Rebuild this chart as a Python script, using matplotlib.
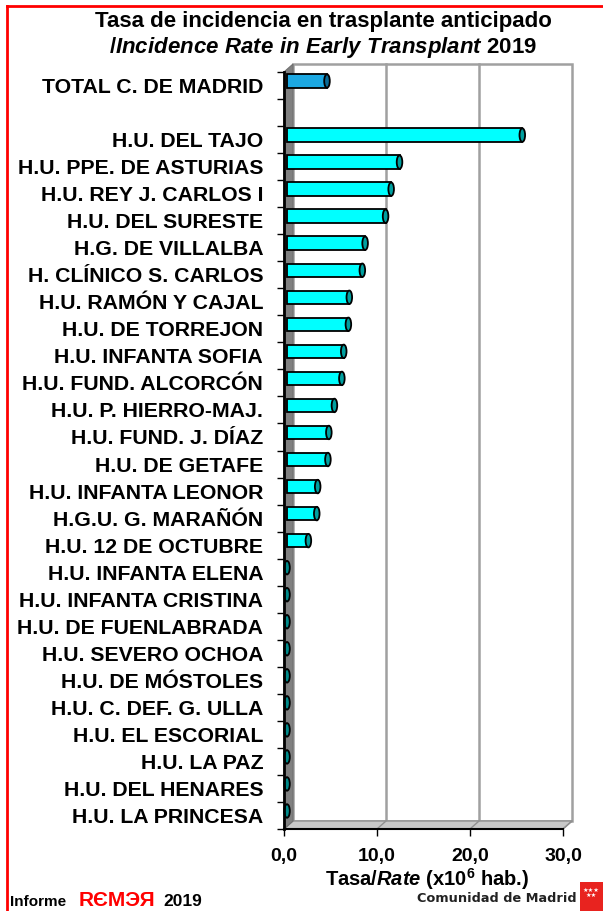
import matplotlib
matplotlib.use("Agg")
import matplotlib.pyplot as plt
import matplotlib.transforms as mtransforms
from matplotlib.patches import Rectangle, Ellipse, Polygon
from matplotlib.lines import Line2D

plt.rcParams["font.family"] = ["Liberation Sans", "DejaVu Sans"]
plt.rcParams["font.weight"] = "bold"
plt.rcParams["mathtext.fontset"] = "custom"
plt.rcParams["mathtext.rm"] = "Liberation Sans:bold"
plt.rcParams["mathtext.it"] = "Liberation Sans:bold:italic"
plt.rcParams["mathtext.bf"] = "Liberation Sans:bold"

# data (top to bottom); "" is the empty gap row
categories = ["TOTAL C. DE MADRID", "",
              "H.U. DEL TAJO", "H.U. PPE. DE ASTURIAS", "H.U. REY J. CARLOS I",
              "H.U. DEL SURESTE", "H.G. DE VILLALBA", "H. CLÍNICO S. CARLOS",
              "H.U. RAMÓN Y CAJAL", "H.U. DE TORREJON", "H.U. INFANTA SOFIA",
              "H.U. FUND. ALCORCÓN", "H.U. P. HIERRO-MAJ.", "H.U. FUND. J. DÍAZ",
              "H.U. DE GETAFE", "H.U. INFANTA LEONOR", "H.G.U. G. MARAÑÓN",
              "H.U. 12 DE OCTUBRE", "H.U. INFANTA ELENA", "H.U. INFANTA CRISTINA",
              "H.U. DE FUENLABRADA", "H.U. SEVERO OCHOA", "H.U. DE MÓSTOLES",
              "H.U. C. DEF. G. ULLA", "H.U. EL ESCORIAL", "H.U. LA PAZ",
              "H.U. DEL HENARES", "H.U. LA PRINCESA"]
rates = [4.3, None,
         25.3, 12.1, 11.2, 10.6, 8.4, 8.1, 6.7, 6.6, 6.1, 5.9, 5.1, 4.5, 4.4,
         3.3, 3.2, 2.3, 0, 0, 0, 0, 0, 0, 0, 0, 0, 0]
xticks = [0, 10, 20, 30]
xticklabels = ["0,0", "10,0", "20,0", "30,0"]

W, H = 603, 911
AX_W, AX_H = 279, 757
fig = plt.figure(figsize=(W / 100, H / 100), dpi=100)
ax = fig.add_axes([284 / W, 1 - 829 / H, AX_W / W, AX_H / H])
ax.set_xlim(0, 30)
n = len(categories)
ax.set_ylim(n - 0.5, -0.5)
ax.set_facecolor("none")

# pseudo-3D frame: back wall, floor, left wall (depth offset in pixels)
dx, dy = 9, 8
ox, oy = dx / AX_W, dy / AX_H
back_d = mtransforms.offset_copy(ax.transData, fig=fig, x=dx, y=dy, units="dots")
ax.add_patch(Rectangle((ox, oy), 1, 1, transform=ax.transAxes, facecolor="white",
                       edgecolor="#a0a0a0", lw=1.8, clip_on=False, zorder=0))
for xv in xticks[1:-1]:
    ax.add_line(Line2D([xv, xv], [n - 0.5, -0.5], transform=back_d,
                       color="#a0a0a0", lw=1.8, clip_on=False, zorder=0.5))
ax.add_patch(Polygon([(0, 0), (1, 0), (1 + ox, oy), (ox, oy)], closed=True,
                     transform=ax.transAxes, facecolor="#c8c8c8", edgecolor="#909090",
                     lw=1, clip_on=False, zorder=1))
for xv in xticks[1:]:
    x0 = xv / 30
    ax.add_line(Line2D([x0, x0 + ox], [0, oy], transform=ax.transAxes,
                       color="#909090", lw=1, clip_on=False, zorder=1.1))
ax.add_patch(Polygon([(0, 0), (0, 1), (ox, 1 + oy), (ox, oy)], closed=True,
                     transform=ax.transAxes, facecolor="#808080", edgecolor="#707070",
                     lw=0.8, clip_on=False, zorder=1.2))

# cylinders
mid = mtransforms.offset_copy(ax.transData, fig=fig, x=3, y=4.5, units="dots")
bh = 0.5
cap_w = 0.6
for i, v in enumerate(rates):
    if v is None:
        continue
    face, capc = ("#1ca8e2", "#0a6a96") if i == 0 else ("#00ffff", "#00a0a0")
    if v == 0:
        capc = "#008a8a"
    else:
        ax.add_patch(Rectangle((0, i - bh / 2), v, bh, transform=mid, facecolor=face,
                               edgecolor="black", lw=1.3, zorder=3, clip_on=False))
    ax.add_patch(Ellipse((v, i), cap_w, bh, transform=mid, facecolor=capc,
                         edgecolor="black", lw=1.3, zorder=4, clip_on=False))

# axes, ticks
for s in ("top", "right"):
    ax.spines[s].set_visible(False)
ax.spines["left"].set_linewidth(2)
ax.spines["bottom"].set_linewidth(1.5)
ax.spines["left"].set_zorder(5)
ax.spines["bottom"].set_zorder(5)
ax.set_yticks([i - 0.5 for i in range(n + 1)])
ax.set_yticklabels([])
ax.set_yticks(range(n), minor=True)
ax.set_yticklabels(categories, minor=True, fontsize=15.3, fontweight="bold")
ax.tick_params(axis="y", which="major", length=5, width=1)
ax.tick_params(axis="y", which="minor", length=0, pad=15)
ax.set_xticks(xticks)
ax.set_xticklabels(xticklabels, fontsize=14, fontweight="bold")
ax.tick_params(axis="x", length=5, width=1, pad=9)

fig.text(427 / W, 1 - 879 / H, "Tasa/$\\mathit{Rate}$ (x10$^{\\mathrm{6}}$ hab.)",
         ha="center", va="center", fontsize=14.5, fontweight="bold")

fig.text(323 / W, 1 - 22 / H, "Tasa de incidencia en trasplante anticipado",
         ha="center", va="center", fontsize=16, fontweight="bold")
fig.text(323 / W, 1 - 47 / H,
         "$\\mathit{/Incidence\\ Rate\\ in\\ Early\\ Transplant}$ 2019",
         ha="center", va="center", fontsize=16, fontweight="bold")

# footer
fig.text(10 / W, 1 - 902 / H, "Informe", fontsize=11, fontweight="bold", va="center")
fig.text(79 / W, 1 - 900 / H, "RЄMЭЯ", fontsize=15, fontweight="bold",
         color="#ff0000", va="center")
fig.text(163 / W, 1 - 901 / H, "2019", fontsize=12.5, fontweight="bold", va="center")
fig.text(577 / W, 1 - 898 / H, "Comunidad de Madrid", fontsize=9.3, fontweight="bold",
         color="#222222", ha="right", va="center", family="DejaVu Sans")
fig.add_artist(Rectangle((580 / W, 0), 23 / W, 29 / H, transform=fig.transFigure,
                         facecolor="#e8231f", edgecolor="none"))
fig.text(591 / W, 1 - 893 / H, "★★★\n★★", fontsize=4.5, color="white",
         ha="center", va="center", family="DejaVu Sans", linespacing=0.9)

# red frame
fig.add_artist(Line2D([7 / W, 7 / W], [0, 1 - 6 / H], color="#ff0000", lw=2))
fig.add_artist(Line2D([7 / W, 1], [1 - 6 / H, 1 - 6 / H], color="#ff0000", lw=2))

fig.savefig("out.png", dpi=100)
